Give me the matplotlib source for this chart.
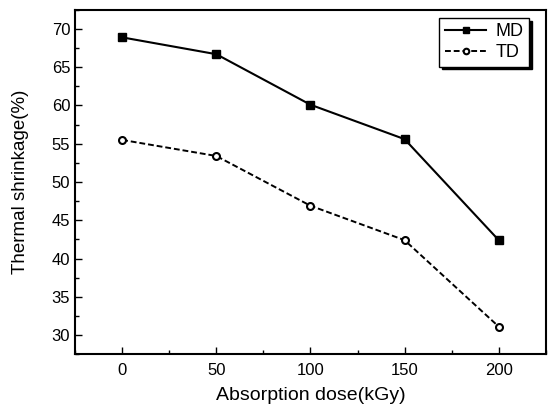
import matplotlib
matplotlib.use("Agg")
import matplotlib.pyplot as plt
from matplotlib.ticker import MultipleLocator

# Datos
dosis = [0, 50, 100, 150, 200]
md = [68.9, 66.7, 60.1, 55.6, 42.4]
td = [55.5, 53.4, 46.9, 42.4, 31.1]

plt.rcParams['font.family'] = ['Liberation Sans', 'DejaVu Sans']

fig = plt.figure(figsize=(5.48, 4.09), dpi=100)
ax = fig.add_axes([0.137, 0.134, 0.859, 0.842])

ax.plot(dosis, md, color='black', lw=1.5, marker='s', ms=5.8, label='MD')
ax.plot(dosis, td, color='black', lw=1.4, ls=(0, (3, 1.5)), marker='o', ms=5,
        mfc='white', mew=1.5, label='TD')

ax.set_xlim(-25, 225)
ax.set_ylim(27.5, 72.5)
ax.xaxis.set_major_locator(MultipleLocator(50))
ax.xaxis.set_minor_locator(MultipleLocator(25))
ax.yaxis.set_major_locator(MultipleLocator(5))
ax.yaxis.set_minor_locator(MultipleLocator(2.5))
ax.tick_params(which='both', direction='in', width=1, labelsize=12)
ax.tick_params(which='major', length=5)
ax.tick_params(which='minor', length=3)
ax.tick_params(axis='x', pad=6)
for s in ax.spines.values():
    s.set_linewidth(1.5)

ax.set_xlabel('Absorption dose(kGy)', fontsize=14, labelpad=7)
ax.set_ylabel('Thermal shrinkage(%)', fontsize=13.5, labelpad=16)

leg = ax.legend(loc='upper right', bbox_to_anchor=(0.964, 0.976), borderaxespad=0,
                fontsize=13, fancybox=False, shadow={'color': 'black', 'alpha': 1},
                edgecolor='black', framealpha=1, handlelength=2.3, handletextpad=0.5,
                labelspacing=0.2, borderpad=0.3, markerscale=0.8)
leg.get_frame().set_linewidth(1)

fig.savefig('out.png', dpi=100)
